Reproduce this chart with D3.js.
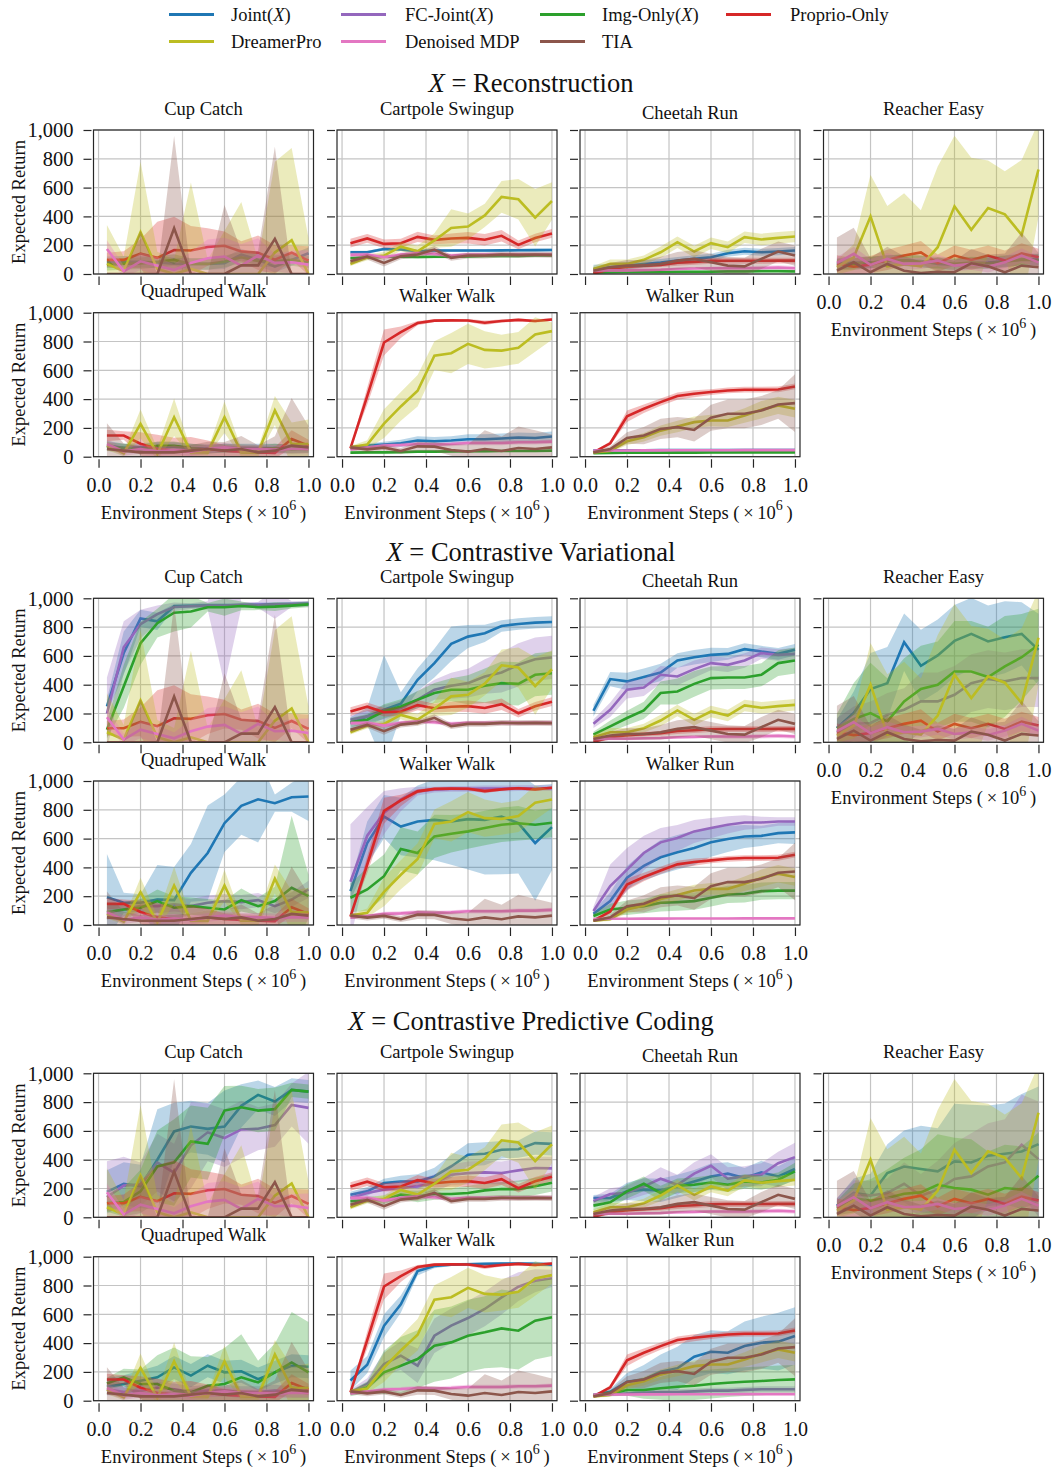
<!DOCTYPE html>
<html>
<head>
<meta charset="utf-8">
<script src="https://cdn.jsdelivr.net/npm/d3@7"></script>
<style>
  body { margin: 0; background: #fff; }
  svg { display: block; }
</style>
</head>
<body>
<svg id="chart" width="1053" height="1468"></svg>
<script>
// ---------- data ----------
const steps = [0.04, 0.12, 0.2, 0.28, 0.36, 0.44, 0.52, 0.6, 0.68, 0.76, 0.84, 0.92, 1.0];
const tasks = ["Cup Catch", "Cartpole Swingup", "Cheetah Run", "Reacher Easy",
               "Quadruped Walk", "Walker Walk", "Walker Run"];
const sectionNames = ["Reconstruction", "Contrastive Variational", "Contrastive Predictive Coding"];
const xTicks = [0, 0.2, 0.4, 0.6, 0.8, 1.0];
const yTicks = [0, 200, 400, 600, 800, 1000];

// baselines (identical in every section); rows follow `tasks`
const proprioMean = [
  [98, 98, 142, 112, 167, 163, 188, 196, 157, 147, 100, 148, 93],
  [214, 247, 209, 214, 258, 237, 247, 251, 238, 265, 202, 250, 282],
  [3, 35, 50, 57, 63, 78, 84, 91, 92, 92, 92, 93, 93],
  [70, 50, 65, 98, 128, 150, 75, 128, 98, 128, 93, 143, 116],
  [147, 147, 90, 53, 42, 37, 53, 42, 35, 30, 26, 123, 77],
  [58, 420, 793, 865, 928, 945, 947, 946, 930, 942, 950, 942, 953],
  [30, 93, 281, 333, 379, 421, 437, 449, 460, 465, 465, 467, 488]];
const proprioSd = [
  [50, 60, 100, 250, 230, 170, 130, 100, 70, 120, 100, 50, 100],
  [30, 30, 30, 30, 35, 30, 35, 40, 40, 40, 30, 30, 30],
  [10, 15, 15, 15, 15, 20, 20, 20, 20, 20, 20, 20, 20],
  [60, 60, 60, 70, 70, 80, 60, 70, 70, 70, 70, 70, 60],
  [40, 30, 80, 100, 90, 100, 60, 40, 40, 40, 40, 60, 40],
  [5, 60, 90, 40, 15, 10, 10, 10, 15, 10, 10, 10, 10],
  [5, 15, 40, 30, 25, 25, 25, 20, 20, 20, 20, 20, 20]];

const dreamerMean = [
  [70, 20, 290, 35, 0, 35, 0, 0, 0, 0, 150, 235, 0],
  [70, 116, 128, 190, 158, 233, 319, 330, 407, 535, 519, 391, 507],
  [35, 70, 70, 98, 151, 221, 156, 214, 186, 256, 240, 251, 260],
  [47, 116, 400, 53, 70, 53, 186, 470, 307, 458, 414, 272, 726],
  [77, 23, 228, 19, 274, 30, 30, 274, 30, 30, 321, 88, 88],
  [65, 84, 230, 349, 458, 702, 719, 784, 742, 737, 756, 849, 872],
  [30, 42, 107, 135, 181, 209, 240, 251, 251, 286, 326, 356, 333]];
const dreamerSd = [
  [270, 100, 490, 120, 100, 600, 100, 300, 500, 100, 630, 640, 250],
  [15, 20, 25, 30, 40, 50, 130, 90, 80, 110, 140, 200, 130],
  [20, 30, 30, 30, 40, 40, 40, 40, 40, 40, 40, 40, 40],
  [50, 90, 290, 420, 490, 390, 560, 490, 500, 330, 300, 520, 330],
  [30, 20, 100, 40, 130, 20, 20, 110, 30, 30, 100, 150, 170],
  [10, 30, 100, 100, 110, 100, 140, 140, 130, 110, 110, 120, 60],
  [10, 15, 25, 30, 35, 40, 40, 40, 45, 50, 60, 60, 60]];

const denoisedMean = [
  [174, 19, 88, 58, 28, 77, 109, 121, 58, 128, 77, 81, 65],
  [133, 135, 116, 135, 144, 140, 128, 135, 135, 135, 135, 135, 135],
  [23, 25, 25, 28, 30, 35, 38, 40, 40, 40, 42, 45, 40],
  [77, 140, 63, 105, 70, 74, 93, 58, 70, 51, 81, 128, 81],
  [88, 37, 53, 37, 47, 35, 53, 65, 53, 53, 49, 53, 53],
  [51, 63, 77, 81, 88, 84, 88, 95, 95, 95, 100, 100, 105],
  [42, 43, 43, 44, 44, 45, 45, 45, 45, 46, 46, 46, 46]];
const denoisedSd = [
  [60, 40, 60, 60, 40, 80, 130, 130, 150, 120, 60, 80, 100],
  [15, 15, 15, 15, 15, 15, 15, 15, 15, 15, 15, 15, 15],
  [10, 10, 10, 10, 10, 10, 10, 10, 15, 15, 15, 15, 15],
  [40, 50, 40, 40, 40, 40, 40, 40, 40, 40, 40, 50, 40],
  [30, 30, 30, 30, 30, 30, 30, 30, 30, 30, 30, 30, 30],
  [10, 10, 15, 15, 15, 15, 15, 15, 15, 15, 15, 15, 15],
  [5, 5, 5, 5, 5, 5, 5, 5, 5, 5, 5, 5, 5]];

const tiaMean = [
  [0, 0, 0, 0, 318, 0, 0, 0, 60, 60, 244, 0, 0],
  [88, 121, 77, 123, 135, 170, 112, 128, 128, 135, 133, 135, 133],
  [23, 47, 58, 58, 70, 93, 105, 81, 58, 53, 105, 156, 128],
  [23, 81, 12, 70, 23, 7, 16, 12, 74, 53, 12, 58, 47],
  [53, 42, 30, 30, 30, 42, 53, 42, 53, 30, 42, 77, 65],
  [65, 51, 63, 40, 72, 70, 47, 35, 53, 40, 60, 53, 65],
  [30, 53, 130, 147, 193, 205, 186, 270, 298, 298, 321, 363, 372]];
const tiaSd = [
  [0, 0, 300, 0, 640, 0, 0, 480, 100, 100, 640, 0, 0],
  [20, 20, 25, 20, 20, 25, 20, 20, 20, 20, 20, 20, 20],
  [20, 30, 40, 40, 50, 60, 60, 60, 60, 60, 70, 70, 70],
  [230, 240, 100, 120, 100, 80, 100, 80, 100, 80, 130, 230, 100],
  [180, 50, 40, 40, 40, 40, 50, 60, 90, 50, 100, 330, 150],
  [20, 20, 20, 20, 30, 30, 40, 50, 130, 100, 150, 130, 90],
  [10, 20, 40, 60, 70, 70, 80, 90, 100, 100, 100, 100, 200]];

// X = Reconstruction
const reconJointMean = [
  [81, 85, 85, 80, 72, 70, 70, 75, 135, 98, 51, 98, 144],
  [151, 151, 174, 170, 158, 163, 163, 163, 163, 164, 165, 166, 167],
  [35, 47, 58, 70, 79, 93, 105, 116, 144, 158, 151, 156, 163],
  [70, 80, 80, 90, 95, 90, 70, 65, 75, 80, 90, 100, 100],
  [80, 60, 65, 70, 70, 60, 55, 60, 60, 60, 60, 55, 60],
  [60, 77, 84, 93, 112, 107, 112, 121, 121, 126, 133, 130, 140],
  [45, 45, 45, 45, 46, 46, 46, 46, 46, 47, 47, 47, 47]];
const reconJointSd = [
  [40, 40, 40, 40, 40, 40, 40, 40, 40, 40, 40, 40, 40],
  [10, 10, 10, 10, 10, 10, 10, 10, 10, 10, 10, 10, 10],
  [30, 25, 25, 25, 25, 25, 25, 25, 25, 25, 25, 25, 25],
  [40, 40, 40, 40, 40, 40, 40, 40, 40, 40, 40, 40, 40],
  [30, 30, 30, 30, 30, 30, 30, 30, 30, 30, 30, 30, 30],
  [10, 15, 20, 25, 30, 30, 30, 35, 35, 35, 35, 35, 35],
  [8, 8, 8, 8, 8, 8, 8, 8, 8, 8, 8, 8, 8]];
const reconImgMean = [
  [65, 70, 74, 85, 98, 70, 70, 86, 116, 90, 88, 98, 81],
  [110, 115, 120, 120, 118, 120, 120, 122, 125, 125, 125, 128, 128],
  [10, 12, 14, 15, 15, 16, 16, 16, 18, 18, 20, 20, 18],
  [65, 70, 80, 90, 95, 85, 80, 70, 80, 75, 85, 100, 95],
  [70, 60, 50, 75, 75, 60, 50, 60, 55, 50, 60, 50, 55],
  [28, 30, 30, 32, 35, 35, 37, 38, 38, 40, 40, 40, 42],
  [25, 26, 27, 27, 28, 28, 28, 29, 29, 30, 30, 30, 30]];
const reconImgSd = [
  [40, 40, 40, 40, 40, 40, 40, 40, 40, 40, 40, 40, 40],
  [10, 10, 10, 10, 10, 10, 10, 10, 10, 10, 10, 10, 10],
  [8, 8, 8, 8, 8, 8, 8, 8, 8, 8, 8, 8, 8],
  [40, 40, 40, 40, 40, 40, 40, 40, 40, 40, 40, 40, 40],
  [30, 30, 30, 30, 30, 30, 30, 30, 30, 30, 30, 30, 30],
  [8, 8, 8, 8, 8, 8, 8, 8, 8, 8, 8, 8, 8],
  [6, 6, 6, 6, 6, 6, 6, 6, 6, 6, 6, 6, 6]];

// X = Contrastive Variational
const cvJointMean = [
  [250, 620, 860, 840, 945, 948, 950, 950, 952, 955, 958, 960, 962],
  [134, 180, 226, 268, 434, 550, 684, 734, 757, 808, 822, 831, 835],
  [219, 439, 423, 453, 485, 568, 591, 607, 614, 647, 630, 614, 642],
  [99, 203, 370, 411, 695, 531, 603, 704, 753, 700, 730, 753, 642],
  [193, 154, 154, 177, 173, 362, 500, 707, 827, 873, 846, 887, 892],
  [235, 569, 753, 684, 719, 730, 719, 735, 730, 753, 707, 569, 680],
  [78, 166, 329, 410, 470, 505, 535, 574, 597, 615, 619, 638, 643]];
const cvJointSd = [
  [50, 150, 60, 60, 15, 15, 15, 15, 15, 15, 15, 15, 15],
  [40, 60, 380, 80, 80, 100, 120, 80, 60, 40, 40, 40, 40],
  [40, 50, 60, 60, 60, 50, 50, 50, 40, 40, 40, 40, 40],
  [60, 150, 250, 250, 200, 250, 250, 250, 250, 250, 250, 220, 250],
  [300, 70, 60, 240, 230, 200, 330, 200, 200, 300, 60, 100, 170],
  [60, 150, 150, 200, 250, 280, 300, 350, 380, 400, 350, 400, 300],
  [20, 60, 80, 100, 120, 120, 120, 100, 90, 80, 70, 70, 80]];
const cvFcMean = [
  [200, 660, 820, 890, 940, 945, 950, 950, 955, 955, 958, 960, 962],
  [157, 180, 208, 238, 296, 365, 393, 411, 457, 485, 538, 577, 590],
  [129, 226, 365, 381, 469, 457, 508, 550, 538, 568, 619, 607, 614],
  [69, 129, 134, 192, 226, 284, 284, 330, 411, 439, 423, 446, 446],
  [85, 108, 131, 131, 143, 131, 154, 166, 159, 173, 131, 177, 247],
  [300, 620, 780, 870, 930, 940, 945, 945, 948, 948, 950, 950, 950],
  [97, 270, 385, 500, 574, 604, 650, 673, 696, 712, 712, 719, 719]];
const cvFcSd = [
  [250, 180, 100, 60, 30, 20, 30, 550, 20, 20, 100, 20, 20],
  [30, 40, 50, 50, 60, 70, 90, 100, 120, 140, 150, 150, 150],
  [30, 50, 60, 60, 60, 60, 60, 50, 50, 50, 40, 40, 40],
  [100, 120, 150, 150, 150, 200, 200, 200, 200, 200, 200, 200, 200],
  [50, 50, 50, 50, 50, 50, 50, 50, 50, 50, 50, 50, 60],
  [400, 200, 150, 80, 30, 20, 20, 20, 20, 20, 20, 20, 20],
  [30, 150, 150, 120, 100, 90, 80, 70, 60, 50, 40, 30, 30]];
const cvImgMean = [
  [88, 388, 688, 827, 900, 908, 938, 938, 947, 938, 942, 949, 958],
  [139, 157, 215, 249, 296, 342, 365, 365, 393, 411, 406, 469, 480],
  [53, 111, 169, 222, 342, 353, 406, 446, 450, 450, 469, 550, 568],
  [99, 162, 203, 145, 284, 370, 400, 492, 492, 453, 527, 591, 677],
  [90, 108, 120, 166, 120, 131, 120, 108, 173, 131, 166, 258, 200],
  [189, 247, 339, 528, 500, 615, 634, 650, 673, 696, 707, 696, 710],
  [62, 108, 120, 131, 154, 159, 166, 189, 212, 217, 235, 239, 239]];
const cvImgSd = [
  [60, 150, 150, 100, 130, 110, 30, 60, 30, 20, 30, 20, 20],
  [30, 40, 50, 50, 60, 70, 80, 100, 120, 150, 150, 150, 150],
  [20, 40, 50, 60, 80, 90, 90, 80, 80, 80, 80, 90, 90],
  [100, 250, 350, 300, 300, 300, 300, 350, 350, 350, 350, 300, 250],
  [50, 50, 60, 80, 80, 60, 60, 60, 80, 60, 100, 500, 150],
  [100, 150, 150, 150, 150, 150, 130, 120, 120, 120, 120, 100, 100],
  [20, 40, 50, 50, 60, 60, 60, 60, 60, 60, 60, 60, 60]];

// X = Contrastive Predictive Coding
const cpcJointMean = [
  [176, 233, 215, 400, 596, 630, 614, 630, 774, 850, 804, 885, 873],
  [157, 180, 238, 249, 249, 284, 353, 434, 441, 469, 473, 515, 510],
  [134, 134, 180, 192, 187, 215, 249, 284, 303, 273, 312, 284, 335],
  [81, 169, 152, 307, 353, 335, 319, 388, 381, 427, 441, 457, 508],
  [97, 116, 139, 162, 231, 174, 243, 197, 204, 150, 197, 243, 236],
  [140, 250, 520, 670, 900, 935, 945, 948, 950, 952, 952, 950, 945],
  [39, 62, 132, 148, 201, 225, 306, 340, 333, 380, 403, 410, 449]];
const cpcJointSd = [
  [150, 150, 150, 350, 200, 180, 180, 250, 150, 100, 100, 80, 80],
  [20, 30, 30, 40, 50, 60, 80, 80, 80, 60, 60, 80, 80],
  [20, 30, 60, 80, 80, 80, 80, 90, 80, 70, 80, 70, 80],
  [50, 100, 150, 200, 250, 300, 300, 400, 400, 350, 350, 400, 400],
  [60, 60, 70, 80, 80, 80, 80, 80, 80, 80, 80, 80, 80],
  [70, 60, 80, 60, 30, 15, 10, 10, 10, 10, 10, 15, 15],
  [10, 20, 60, 100, 120, 150, 150, 150, 150, 170, 180, 200, 200]];
const cpcFcMean = [
  [140, 220, 230, 380, 310, 500, 590, 550, 610, 615, 640, 780, 760],
  [134, 169, 192, 203, 215, 238, 296, 307, 312, 307, 326, 342, 340],
  [111, 162, 169, 215, 268, 226, 303, 358, 268, 284, 296, 376, 418],
  [76, 157, 152, 169, 233, 150, 192, 266, 284, 353, 381, 503, 404],
  [80, 60, 70, 90, 80, 60, 70, 70, 60, 60, 70, 60, 60],
  [58, 116, 255, 313, 243, 451, 521, 574, 637, 718, 792, 833, 850],
  [40, 45, 50, 55, 60, 60, 65, 70, 70, 75, 80, 80, 80]];
const cpcFcSd = [
  [250, 200, 150, 200, 200, 300, 200, 200, 200, 150, 150, 150, 250],
  [30, 30, 40, 50, 50, 60, 70, 80, 80, 80, 80, 80, 80],
  [30, 40, 50, 60, 80, 70, 80, 80, 80, 70, 80, 80, 100],
  [60, 100, 100, 100, 150, 150, 200, 250, 300, 300, 300, 350, 400],
  [40, 40, 40, 40, 40, 40, 40, 40, 40, 40, 40, 40, 40],
  [20, 40, 80, 100, 120, 120, 120, 120, 120, 120, 100, 80, 60],
  [10, 10, 15, 15, 20, 20, 20, 20, 20, 20, 20, 20, 20]];
const cpcImgMean = [
  [99, 106, 180, 353, 381, 527, 510, 741, 764, 741, 751, 885, 873],
  [111, 122, 122, 157, 145, 162, 162, 169, 187, 196, 196, 215, 240],
  [81, 104, 180, 233, 169, 219, 226, 242, 226, 249, 242, 261, 319],
  [65, 134, 115, 134, 164, 173, 226, 203, 192, 157, 203, 192, 289],
  [120, 162, 116, 116, 69, 58, 104, 116, 162, 127, 197, 266, 197],
  [51, 93, 197, 243, 289, 382, 405, 451, 475, 502, 486, 556, 580],
  [39, 51, 74, 74, 86, 97, 104, 116, 125, 132, 137, 144, 148]];
const cpcImgSd = [
  [60, 100, 150, 250, 300, 250, 250, 170, 150, 150, 150, 50, 50],
  [20, 20, 30, 30, 40, 40, 40, 50, 50, 50, 60, 60, 60],
  [30, 40, 50, 50, 50, 50, 50, 50, 50, 50, 50, 50, 60],
  [50, 100, 150, 200, 250, 300, 350, 350, 350, 300, 300, 300, 300],
  [40, 60, 100, 200, 300, 250, 200, 250, 300, 150, 200, 350, 350],
  [20, 40, 150, 200, 200, 250, 250, 250, 250, 270, 270, 270, 270],
  [10, 20, 40, 60, 80, 100, 100, 100, 100, 100, 100, 100, 100]];

// ---------- series table (legend order = drawing order) ----------
const series = [
  { label: ["Joint(", "X", ")"], color: "#1f77b4",
    mean: [reconJointMean, cvJointMean, cpcJointMean], sd: [reconJointSd, cvJointSd, cpcJointSd] },
  { label: ["FC-Joint(", "X", ")"], color: "#9467bd",
    mean: [null, cvFcMean, cpcFcMean], sd: [null, cvFcSd, cpcFcSd] },
  { label: ["Img-Only(", "X", ")"], color: "#2ca02c",
    mean: [reconImgMean, cvImgMean, cpcImgMean], sd: [reconImgSd, cvImgSd, cpcImgSd] },
  { label: ["Proprio-Only"], color: "#d62728",
    mean: [proprioMean, proprioMean, proprioMean], sd: [proprioSd, proprioSd, proprioSd] },
  { label: ["DreamerPro"], color: "#bcbd22",
    mean: [dreamerMean, dreamerMean, dreamerMean], sd: [dreamerSd, dreamerSd, dreamerSd] },
  { label: ["Denoised MDP"], color: "#e377c2",
    mean: [denoisedMean, denoisedMean, denoisedMean], sd: [denoisedSd, denoisedSd, denoisedSd] },
  { label: ["TIA"], color: "#8c564b",
    mean: [tiaMean, tiaMean, tiaMean], sd: [tiaSd, tiaSd, tiaSd] }
];

// ---------- layout ----------
const FONT = "'Liberation Serif', 'Times New Roman', serif";
const W = 220, H = 144;
const colLeft = [93.5, 337, 580, 823.5];
const rowTop = [[130, 312.7], [598.3, 781], [1073.3, 1256.7]];
const sectionTitleY = [92, 561, 1030];
const panelPos = [[0, 0], [0, 1], [0, 2], [0, 3], [1, 0], [1, 1], [1, 2]]; // [row, col]

const svg = d3.select("#chart").style("font-family", FONT);
const x = d3.scaleLinear().domain([-0.024, 1.024]).range([0, W]);
const y = d3.scaleLinear().domain([0, 1000]).range([H, 0]);

const lineGen = d3.line().x(d => x(d.t)).y(d => y(d.m));
const areaGen = d3.area().x(d => x(d.t)).y0(d => y(d.m - d.s)).y1(d => y(d.m + d.s));

// ---------- legend ----------
const legendCols = [[169, 231], [341, 405], [540, 602], [726, 790]];
const legendRows = [14.5, 41.5];
series.forEach((s, i) => {
  const r = Math.floor(i / 4), c = i % 4;
  const [lx, tx] = legendCols[c];
  const ly = legendRows[r];
  svg.append("line").attr("x1", lx).attr("x2", lx + 45).attr("y1", ly).attr("y2", ly)
    .attr("stroke", s.color).attr("stroke-width", 3);
  const t = svg.append("text").attr("x", tx).attr("y", ly + 6.5)
    .attr("font-size", 18.5).attr("fill", "#111");
  s.label.forEach((part, k) => {
    t.append("tspan").text(part).attr("font-style", k === 1 ? "italic" : "normal");
  });
});

// ---------- panels ----------
function drawPanel(sec, ti) {
  const [r, c] = panelPos[ti];
  const left = colLeft[c], top = rowTop[sec][r];
  const g = svg.append("g").attr("transform", `translate(${left},${top})`);

  // grid
  g.append("g").selectAll("line").data(xTicks).join("line")
    .attr("x1", d => x(d)).attr("x2", d => x(d)).attr("y1", 0).attr("y2", H)
    .attr("stroke", "#c4c4c4").attr("stroke-width", 1.2);
  g.append("g").selectAll("line").data(yTicks).join("line")
    .attr("x1", 0).attr("x2", W).attr("y1", d => y(d)).attr("y2", d => y(d))
    .attr("stroke", "#c4c4c4").attr("stroke-width", 1.2);

  // curves with shaded spread, clipped to the axes box
  const clipId = `clip-${sec}-${ti}`;
  g.append("clipPath").attr("id", clipId).append("rect").attr("width", W).attr("height", H);
  const plot = g.append("g").attr("clip-path", `url(#${clipId})`);
  series.forEach(s => {
    if (!s.mean[sec]) return;
    const mm = s.mean[sec][ti], ss = s.sd[sec][ti];
    const pts = steps.map((t, i) => ({ t, m: mm[i], s: ss[i] }));
    plot.append("path").datum(pts).attr("d", areaGen)
      .attr("fill", s.color).attr("fill-opacity", 0.3).attr("stroke", "none");
    plot.append("path").datum(pts).attr("d", lineGen)
      .attr("fill", "none").attr("stroke", s.color).attr("stroke-width", 2.6)
      .attr("stroke-linejoin", "miter").attr("stroke-miterlimit", 4);
  });

  // frame
  g.append("rect").attr("width", W).attr("height", H)
    .attr("fill", "none").attr("stroke", "#262626").attr("stroke-width", 1.2);

  // y axis
  const yAxis = d3.axisLeft(y).tickValues(yTicks).tickSize(8).tickPadding(10)
    .tickFormat(c === 0 ? d3.format(",") : () => "");
  const ya = g.append("g").attr("transform", "translate(-2,0)").call(yAxis);
  ya.select(".domain").remove();
  ya.selectAll("line").attr("stroke", "#262626").attr("stroke-width", 1.2);
  ya.selectAll("text").attr("font-size", 20.5).attr("font-family", FONT).attr("fill", "#111")
    .attr("dy", "0.33em");

  // x axis
  const showX = (r === 1) || (c === 3);
  const xAxis = d3.axisBottom(x).tickValues(xTicks).tickSize(8.5)
    .tickFormat(showX ? d3.format(".1f") : () => "");
  const xa = g.append("g").attr("transform", `translate(0,${H + 2.5})`).call(xAxis);
  xa.select(".domain").remove();
  xa.selectAll("line").attr("stroke", "#262626").attr("stroke-width", 1.2);
  xa.selectAll("text").attr("font-size", 20).attr("font-family", FONT).attr("fill", "#111")
    .attr("y", 32.5).attr("dy", 0);

  // panel title (text without descenders sits slightly lower)
  const name = tasks[ti];
  const hasDesc = /[gjpqy]/.test(name);
  g.append("text").attr("x", W / 2).attr("y", hasDesc ? -15.5 : -11)
    .attr("text-anchor", "middle").attr("font-size", 18.5).attr("fill", "#111").text(name);

  // axis labels
  if (c === 0) {
    g.append("text").attr("transform", `translate(${25 - left},${H / 2}) rotate(-90)`)
      .attr("text-anchor", "middle").attr("font-size", 18.5).attr("fill", "#111")
      .text("Expected Return");
  }
  if (showX) {
    const t = g.append("text").attr("x", W / 2).attr("y", H + 62)
      .attr("text-anchor", "middle").attr("font-size", 18.5).attr("fill", "#111");
    t.append("tspan").text("Environment Steps (\u2009\u00d7\u200910");
    t.append("tspan").text("6").attr("font-size", 14).attr("dy", "-0.6em");
    t.append("tspan").text("\u2009)").attr("dy", "0.45em");
  }
}

sectionNames.forEach((nm, sec) => {
  const t = svg.append("text").attr("x", 531).attr("y", sectionTitleY[sec])
    .attr("text-anchor", "middle").attr("font-size", 26.5).attr("fill", "#111");
  t.append("tspan").text("X").attr("font-style", "italic");
  t.append("tspan").text(" = " + nm);
  tasks.forEach((_, ti) => drawPanel(sec, ti));
});
</script>
</body>
</html>
